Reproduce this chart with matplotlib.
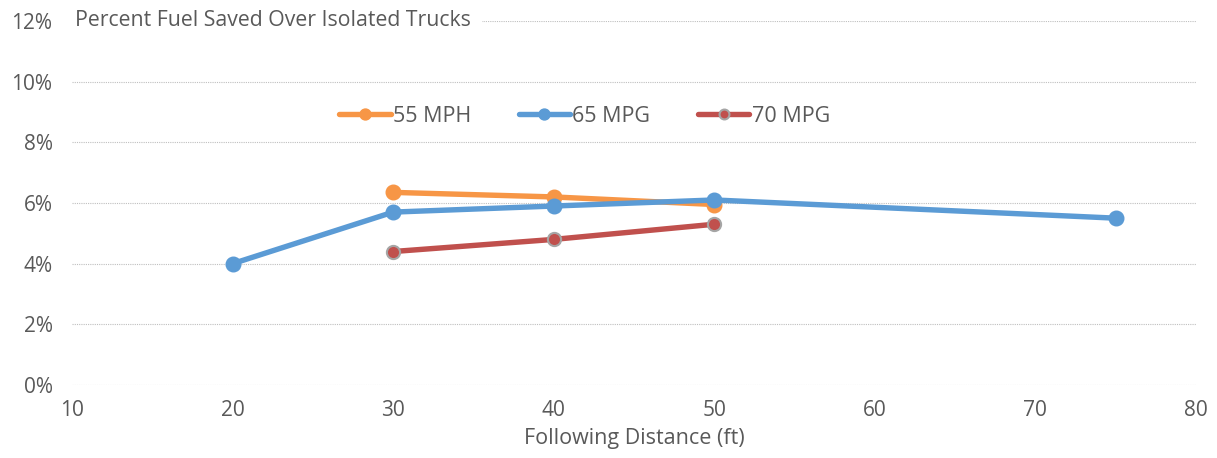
import matplotlib.pyplot as plt
from matplotlib.ticker import FuncFormatter

plt.rcParams['font.family'] = ['Open Sans', 'DejaVu Sans']

dist_55 = [30, 40, 50]
fuel_55 = [6.35, 6.2, 5.95]
dist_65 = [20, 30, 40, 50, 75]
fuel_65 = [4.0, 5.7, 5.9, 6.1, 5.5]
dist_70 = [30, 40, 50]
fuel_70 = [4.4, 4.8, 5.3]
labels = ["55 MPH", "65 MPG", "70 MPG"]

grey = "#595959"

fig = plt.figure(figsize=(12.17, 4.58), dpi=100)
ax = fig.add_axes([72 / 1217, 1 - 385 / 458, (1196 - 72) / 1217, (385 - 21) / 458])

ax.plot(dist_55, fuel_55, color="#F79646", lw=3.9, marker="o", ms=10.5,
        label=labels[0], zorder=3, solid_capstyle="round")
ax.plot(dist_65, fuel_65, color="#5B9BD5", lw=3.9, marker="o", ms=10.5,
        label=labels[1], zorder=4, solid_capstyle="round")
ax.plot(dist_70, fuel_70, color="#C0504D", lw=3.9, marker="o", ms=9.5,
        mec="#A5A5A5", mew=1.5, label=labels[2], zorder=3, solid_capstyle="round")

ax.set_xlim(10, 80)
ax.set_ylim(0, 12)
ax.set_yticks(range(0, 13, 2))
ax.set_xticks(range(10, 81, 10))
ax.yaxis.set_major_formatter(FuncFormatter(lambda v, p: f"{v:.0f}%"))
ax.grid(axis="y", color="#BFBFBF", ls=(0, (1, 1)), lw=0.8, zorder=0)
for s in ax.spines.values():
    s.set_visible(False)
ax.tick_params(length=0, labelsize=15, colors=grey)
ax.tick_params(axis="x", pad=11)
ax.tick_params(axis="y", pad=14)
ax.set_xlabel("Following Distance (ft)", fontsize=15.5, color=grey, labelpad=5)

ax.text(0.003, 12, "Percent Fuel Saved Over Isolated Trucks", transform=ax.get_yaxis_transform(),
        fontsize=15.3, color=grey, va="center", ha="left",
        bbox=dict(facecolor="white", edgecolor="none", pad=8), zorder=5)

ax.legend(loc="center", bbox_to_anchor=(0.456, 0.739), ncol=3, frameon=False,
          fontsize=15.5, labelcolor=grey, handlelength=2.4, handletextpad=0.1,
          columnspacing=2.2, markerscale=0.75)

fig.savefig("out.png", dpi=100)
